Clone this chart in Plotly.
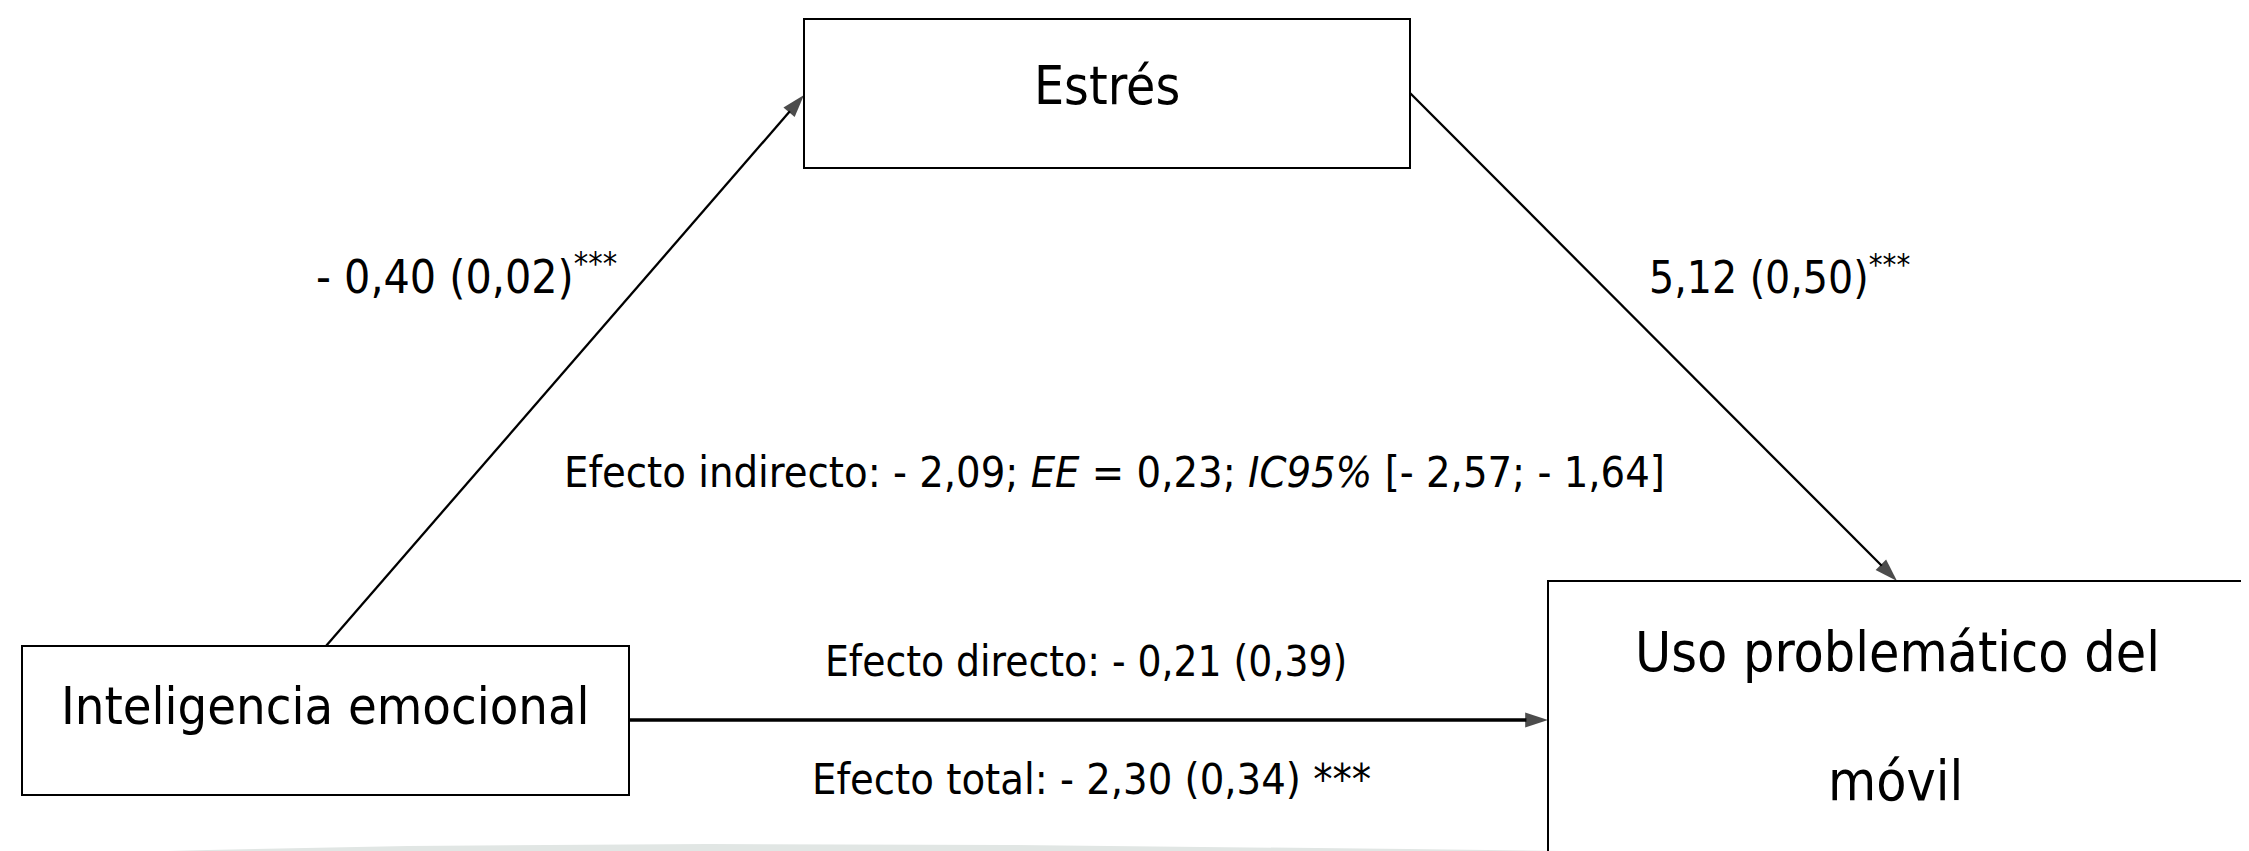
import plotly.graph_objects as go

# ---- content ----
node_names = ["Inteligencia emocional", "Estrés", "Uso problemático del", "móvil"]
coef_a, se_a, sig_a = "- 0,40", "0,02", "***"
coef_b, se_b, sig_b = "5,12", "0,50", "***"
direct_coef, direct_se = "- 0,21", "0,39"
total_coef, total_se, total_sig = "- 2,30", "0,34", "***"
ind_coef, ind_se = "- 2,09", "0,23"
ci_low, ci_high = "- 2,57", "- 1,64"

# ---- geometry (pixel layout of the diagram) ----
W, H = 2249, 851
boxes = {
    "X": (14, 638, 621, 787),
    "M": (796, 11, 1402, 160),
    "Y": (1540, 573, 2239, 880),
}
FONT = "DejaVu Sans Condensed, Liberation Sans Narrow, Arial Narrow, sans-serif"

fig = go.Figure()

# light gray band at the bottom
band_x = [0, 200, 400, 700, 1000, 1400, 1800, 2249]
band_y = [847, 842, 838, 836, 837, 841, 846, 849]
path = "M 0 851 " + " ".join(f"L {x} {y}" for x, y in zip(band_x, band_y)) + f" L {W} 851 Z"
fig.add_shape(type="path", path=path, fillcolor="#e1e6e4", line=dict(width=0), layer="below")

for (x0, y0, x1, y1) in boxes.values():
    fig.add_shape(type="rect", x0=x0, y0=y0, x1=x1, y1=y1,
                  line=dict(color="black", width=2), fillcolor="rgba(0,0,0,0)")

arrows = [
    ((318, 638), (796, 87), 2.3, 24),
    ((1402, 85), (1889, 573), 2.3, 24),
    ((621, 712), (1540, 712), 3.5, 24),
]
for (tx, ty), (hx, hy), w, s in arrows:
    fig.add_trace(go.Scatter(
        x=[tx, hx], y=[ty, hy], mode="lines+markers",
        line=dict(color="black", width=w),
        marker=dict(symbol=["circle", "arrow"], size=[0, s], color="black",
                    angleref="previous", line=dict(width=0)),
        hoverinfo="skip", showlegend=False))

def label(x, y, text, size):
    fig.add_annotation(x=x, y=y, xref="x", yref="y", text=text, showarrow=False,
                       xanchor="center", yanchor="middle",
                       font=dict(family=FONT, size=size, color="black"))

# node labels
label(317, 698, node_names[0], 52)
label(1099, 77, node_names[1], 53)
label(1889, 644, node_names[2], 55)
label(1887, 773, node_names[3], 55)

# path labels
label(458, 266, f"{coef_a} ({se_a})<sup>{sig_a}</sup>", 46)
label(1771, 266, f"{coef_b} ({se_b})<sup>{sig_b}</sup>", 44)
label(1106, 464, f"Efecto indirecto: {ind_coef}; <i>EE</i> = {ind_se}; <i>IC95%</i> [{ci_low}; {ci_high}]", 43)
label(1078, 653, f"Efecto directo: {direct_coef} ({direct_se})", 42)
label(1083, 771, f"Efecto total: {total_coef} ({total_se}) {total_sig}", 43)

fig.update_xaxes(range=[0, W], visible=False, fixedrange=True)
fig.update_yaxes(range=[H, 0], visible=False, fixedrange=True)
fig.update_layout(width=W, height=H, margin=dict(l=0, r=0, t=0, b=0),
                  paper_bgcolor="white", plot_bgcolor="white", showlegend=False)
fig.write_html("out.html")
